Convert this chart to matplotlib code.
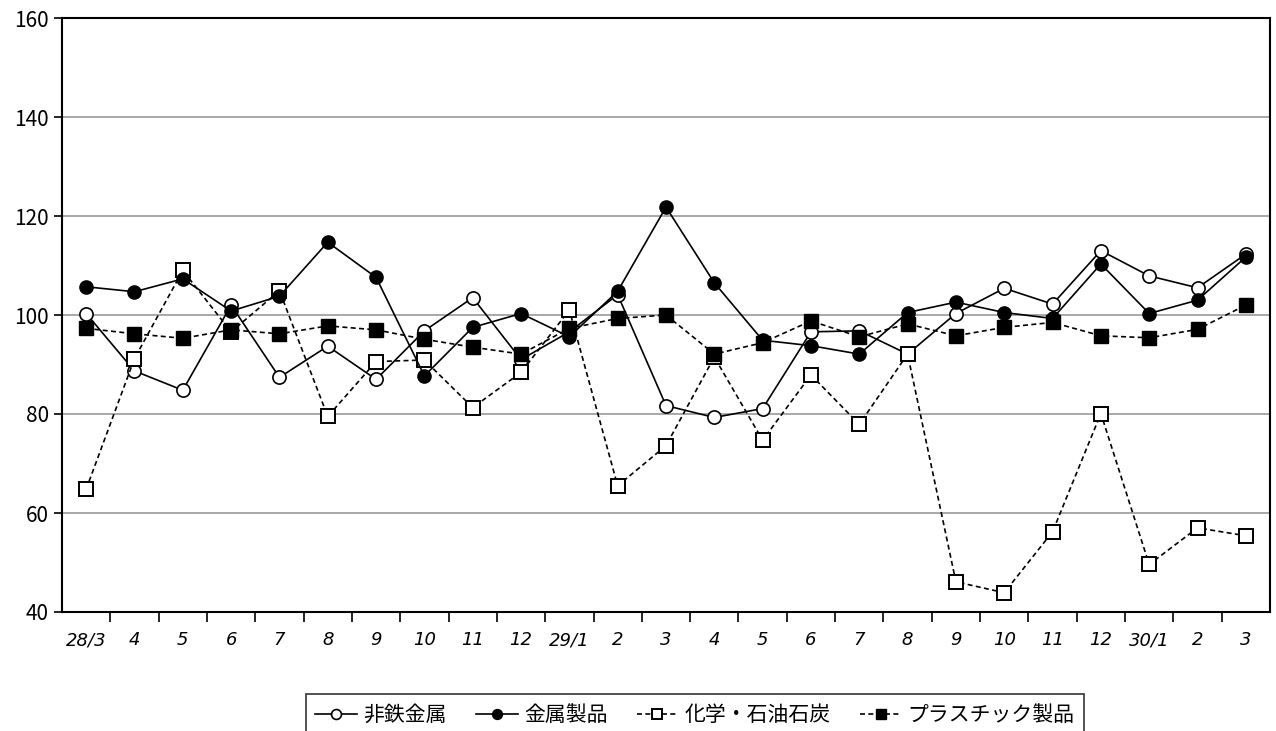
import matplotlib
matplotlib.use("Agg")
import matplotlib.pyplot as plt
from matplotlib.ticker import FixedLocator

plt.rcParams['font.family'] = ['Noto Sans CJK JP', 'DejaVu Sans']

labels = ['28/3','4','5','6','7','8','9','10','11','12','29/1','2','3','4','5','6','7','8','9','10','11','12','30/1','2','3']
hitetsu = [100.3,88.7,84.8,102.0,87.4,93.7,87.0,96.8,103.5,91.0,96.6,104.1,81.7,79.3,81.1,96.6,96.8,92.1,100.3,105.4,102.2,113.0,107.9,105.5,112.3]
kinzoku = [105.7,104.7,107.3,100.8,103.8,114.7,107.6,87.7,97.5,100.3,95.6,104.8,121.8,106.5,94.9,93.8,92.1,100.5,102.6,100.5,99.3,110.3,100.3,103.0,111.7]
kagaku = [64.8,91.2,109.0,96.6,104.9,79.5,90.6,90.9,81.3,88.4,101.0,65.5,73.6,91.5,74.7,87.9,77.9,92.1,46.1,43.9,56.2,80.1,49.6,57.0,55.4]
plastic = [97.3,96.2,95.3,97.0,96.2,97.8,97.0,95.1,93.5,92.1,97.3,99.3,100.0,92.1,94.4,98.8,95.6,98.2,95.8,97.5,98.5,95.8,95.4,97.1,102.0]
names = ['非鉄金属','金属製品','化学・石油石炭','プラスチック製品']

fig = plt.figure(figsize=(12.76,7.31), dpi=100)
ax = fig.add_axes([62/1276, 1-612/731, (1270-62)/1276, (612-18)/731])
x = list(range(len(labels)))
ms = 9.5
ax.plot(x, hitetsu, '-', color='black', lw=1.2, marker='o', ms=ms, mfc='white', mec='black', mew=1.2, label=names[0], zorder=3)
ax.plot(x, kinzoku, '-', color='black', lw=1.2, marker='o', ms=ms, mfc='black', mec='black', label=names[1], zorder=4)
ax.plot(x, kagaku, '--', color='black', lw=1.2, dashes=(3,2), marker='s', ms=ms, mfc='white', mec='black', mew=1.4, label=names[2], zorder=3)
ax.plot(x, plastic, '--', color='black', lw=1.2, dashes=(3,2), marker='s', ms=ms, mfc='black', mec='black', label=names[3], zorder=5)

ax.set_xlim(-0.5, len(labels)-0.5)
ax.set_ylim(40, 160)
ax.set_yticks(range(40, 161, 20))
ax.yaxis.grid(True, color='#999999', lw=1.2)
ax.set_axisbelow(True)
ax.set_xticks(x)
ax.set_xticklabels(labels, family=['DejaVu Sans'], style='italic', fontsize=13)
ax.tick_params(axis='x', length=0, pad=14)
ax.xaxis.set_minor_locator(FixedLocator([i+0.5 for i in range(len(labels)-1)]))
ax.tick_params(axis='x', which='minor', length=7, direction='out', width=1.2)
ax.tick_params(axis='y', length=6, width=1.2, labelsize=15)
for s in ax.spines.values():
    s.set_linewidth(1.5)

leg = ax.legend(loc='upper center', bbox_to_anchor=(695/1276, 1-684/731), bbox_transform=fig.transFigure,
                ncol=4, frameon=True, fancybox=False, edgecolor='black', fontsize=15,
                handlelength=2.0, handletextpad=0.3, columnspacing=1.4, borderpad=0.45, markerscale=0.75)
leg.get_frame().set_linewidth(1.2)
fig.savefig('out.png', dpi=100)
